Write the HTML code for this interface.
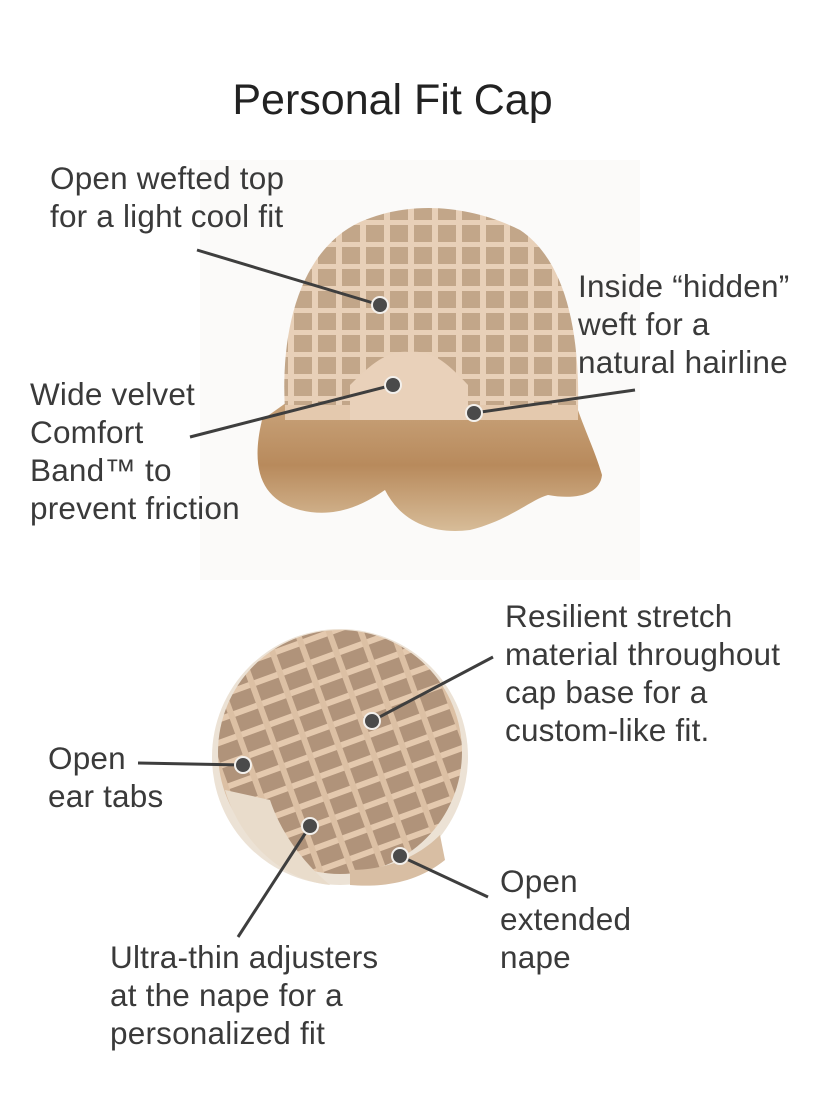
<!DOCTYPE html>
<html><head><meta charset="utf-8"><style>
html,body{margin:0;padding:0;background:#fff;}
body{width:840px;height:1120px;position:relative;overflow:hidden;font-family:"Liberation Sans",sans-serif;color:#333;}
.t{position:absolute;font-size:31.5px;line-height:38px;white-space:nowrap;color:#3a3a3a;letter-spacing:0.2px;}
h1{position:absolute;left:0;width:785px;text-align:center;top:76px;margin:0;font-weight:normal;font-size:43px;color:#222;}
svg{position:absolute;left:0;top:0;}
</style></head><body>
<svg width="840" height="1120" viewBox="0 0 840 1120">
<defs>
<linearGradient id="hair" x1="0" y1="0" x2="0" y2="1">
<stop offset="0" stop-color="#c9a47c"/><stop offset="0.5" stop-color="#b88a5c"/><stop offset="1" stop-color="#d7bc98"/>
</linearGradient>
<pattern id="grid" width="24" height="22" patternUnits="userSpaceOnUse">
<rect width="24" height="22" fill="#c2a689"/>
<rect width="24" height="5" fill="#e8d0b8"/><rect width="6" height="22" fill="#e8d0b8"/>
</pattern>
<pattern id="grid2" width="30" height="22" patternUnits="userSpaceOnUse" patternTransform="rotate(-20)">
<rect width="30" height="22" fill="#b0937a"/>
<rect width="30" height="6" fill="#e4c9ae"/><rect width="6" height="22" fill="#dcc0a4"/>
</pattern>
</defs>
<rect x="200" y="160" width="440" height="420" fill="#fbfaf9"/>
<path d="M262,420 C250,470 262,500 300,510 C340,520 370,500 385,490 C400,520 430,535 470,530 C510,520 530,500 548,495 C575,500 600,495 602,475 C595,450 580,420 575,400 L290,400 Z" fill="url(#hair)"/>
<path d="M285,410 C280,330 300,250 360,222 C410,200 470,205 520,230 C565,260 580,330 578,410 Z" fill="url(#grid)"/>
<path d="M285,405 L578,405 L578,420 L285,420 Z" fill="#e4c9ae"/>
<path d="M350,385 C375,360 390,350 410,352 C430,350 445,360 468,385 L468,420 L350,420 Z" fill="#e9d1ba"/>
<circle cx="340" cy="757" r="128" fill="#ece2d5"/>
<circle cx="340" cy="752" r="122" fill="url(#grid2)"/>
<path d="M225,790 C240,840 280,880 330,885 C300,860 280,830 270,800 Z" fill="#e9dccb"/>
<path d="M350,870 C390,870 420,855 440,835 L445,860 C420,880 390,888 350,885 Z" fill="#d8bea3"/>
<g stroke="#3e3e3e" stroke-width="3" fill="none">
<line x1="197" y1="250" x2="380" y2="305"/>
<line x1="635" y1="390" x2="474" y2="413"/>
<line x1="190" y1="437" x2="393" y2="385"/>
<line x1="493" y1="657" x2="372" y2="721"/>
<line x1="138" y1="763" x2="243" y2="765"/>
<line x1="238" y1="937" x2="310" y2="826"/>
<line x1="488" y1="897" x2="400" y2="856"/>
</g>
<g fill="#4a4a4a" stroke="#f3f0ec" stroke-width="2">
<circle cx="380" cy="305" r="8"/><circle cx="474" cy="413" r="8"/><circle cx="393" cy="385" r="8"/>
<circle cx="372" cy="721" r="8"/><circle cx="243" cy="765" r="8"/><circle cx="310" cy="826" r="8"/><circle cx="400" cy="856" r="8"/>
</g>
</svg>
<h1>Personal Fit Cap</h1>
<div class="t" style="left:50px;top:159px">Open wefted top<br>for a light cool fit</div>
<div class="t" style="left:578px;top:267px">Inside “hidden”<br>weft for a<br>natural hairline</div>
<div class="t" style="left:30px;top:375px">Wide velvet<br>Comfort<br>Band™ to<br>prevent friction</div>
<div class="t" style="left:505px;top:597px">Resilient stretch<br>material throughout<br>cap base for a<br>custom-like fit.</div>
<div class="t" style="left:48px;top:739px">Open<br>ear tabs</div>
<div class="t" style="left:500px;top:862px">Open<br>extended<br>nape</div>
<div class="t" style="left:110px;top:938px">Ultra-thin adjusters<br>at the nape for a<br>personalized fit</div>
</body></html>
